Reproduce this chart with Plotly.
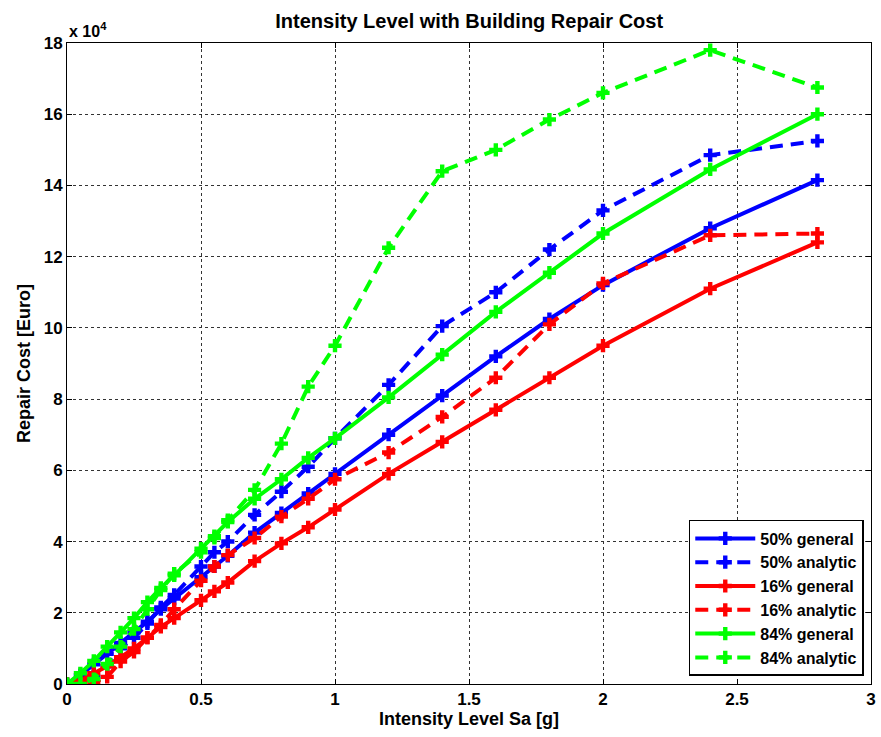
import plotly.graph_objects as go

# Spectral acceleration levels [g]
sa = [0, 0.05, 0.1, 0.15, 0.2, 0.25, 0.3, 0.35, 0.4, 0.5, 0.55, 0.6, 0.7, 0.8, 0.9,
      1.0, 1.2, 1.4, 1.6, 1.8, 2.0, 2.4, 2.8]

# Repair cost in units of 1e4 Euro
p50_general = [0, 0.25, 0.55, 0.85, 1.15, 1.45, 1.75, 2.1, 2.4, 3.0, 3.3, 3.6, 4.25, 4.8, 5.35,
               5.9, 7.0, 8.1, 9.2, 10.25, 11.2, 12.8, 14.15]
p50_analytic = [0, 0.0, 0.2, 0.5, 1.0, 1.3, 1.7, 2.15, 2.5, 3.3, 3.7, 4.0, 4.75, 5.4, 6.1,
                6.9, 8.4, 10.05, 11.0, 12.2, 13.3, 14.85, 15.25]
p16_general = [0, 0.1, 0.3, 0.5, 0.75, 1.0, 1.3, 1.6, 1.85, 2.35, 2.6, 2.85, 3.45, 3.95, 4.4,
               4.9, 5.9, 6.8, 7.7, 8.6, 9.5, 11.1, 12.4]
p16_analytic = [0, 0.0, 0.05, 0.2, 0.63, 0.9, 1.3, 1.66, 2.1, 2.9, 3.3, 3.62, 4.1, 4.7, 5.2,
                5.75, 6.5, 7.5, 8.6, 10.1, 11.25, 12.6, 12.65]
p84_general = [0, 0.3, 0.65, 1.05, 1.45, 1.85, 2.3, 2.7, 3.05, 3.8, 4.15, 4.55, 5.2, 5.75, 6.35,
               6.9, 8.05, 9.25, 10.45, 11.55, 12.65, 14.45, 16.0]
p84_analytic = [0, 0.0, 0.14, 0.56, 1.05, 1.54, 2.1, 2.64, 3.1, 3.7, 4.1, 4.6, 5.45, 6.75, 8.35,
                9.5, 12.25, 14.4, 15.0, 15.85, 16.6, 17.8, 16.75]

y_ticks = [0, 2, 4, 6, 8, 10, 12, 14, 16, 18]
x_ticks = [0, 0.5, 1, 1.5, 2, 2.5, 3]

FONT = "Liberation Sans, Arial, sans-serif"
SCALE = 1e4

series = [
    ("50% general", p50_general, "#0000ff", "solid"),
    ("50% analytic", p50_analytic, "#0000ff", "13px,8px"),
    ("16% general", p16_general, "#ff0000", "solid"),
    ("16% analytic", p16_analytic, "#ff0000", "13px,8px"),
    ("84% general", p84_general, "#00ff00", "solid"),
    ("84% analytic", p84_analytic, "#00ff00", "13px,8px"),
]

fig = go.Figure()
for name, vals, color, dash in series:
    fig.add_trace(go.Scatter(
        x=sa, y=[v * SCALE for v in vals], name=name, mode="lines+markers",
        line=dict(color=color, width=4, dash=dash),
        marker=dict(symbol="cross", size=11, color=color),
    ))

axis_common = dict(
    showline=True, linecolor="black", linewidth=1, mirror="ticks",
    ticks="inside", ticklen=5, tickcolor="black",
    showgrid=True, gridcolor="#333333", gridwidth=1, griddash="dot",
    zeroline=False, automargin=False,
    tickfont=dict(family=FONT, size=17, color="black", weight="bold"),
)

fig.update_layout(
    width=881, height=737,
    margin=dict(l=67, r=10, t=43, b=53),
    paper_bgcolor="white", plot_bgcolor="white",
    font=dict(family=FONT, color="black"),
    title=dict(text="<b>Intensity Level with Building Repair Cost</b>",
               x=0.5326, xanchor="center", y=0.972, yanchor="middle",
               font=dict(family=FONT, size=20, color="black")),
    xaxis=dict(axis_common, range=[0, 3], tickvals=x_ticks,
               ticktext=[f"{t:g}" for t in x_ticks],
               title=dict(text="<b>Intensity Level Sa [g]</b>", standoff=3,
                          font=dict(family=FONT, size=18, color="black"))),
    yaxis=dict(axis_common, range=[0, 18 * SCALE],
               tickvals=[t * SCALE for t in y_ticks],
               ticktext=[str(t) for t in y_ticks],
               title=dict(text="<b>Repair Cost [Euro]</b>", standoff=8,
                          font=dict(family=FONT, size=18, color="black"))),
    legend=dict(x=0.991, xanchor="right", y=0.0125, yanchor="bottom",
                bgcolor="white", bordercolor="black", borderwidth=1.5,
                font=dict(family=FONT, size=16, color="black", weight="bold"),
                tracegroupgap=0, itemwidth=60),
    showlegend=True,
)

fig.add_annotation(
    text="<b>x 10<sup>4</sup></b>", xref="paper", yref="paper",
    x=0.0, y=1.0, xanchor="left", yanchor="bottom", yshift=1,
    showarrow=False, font=dict(family=FONT, size=16, color="black"),
)

fig.write_html("out.html")
